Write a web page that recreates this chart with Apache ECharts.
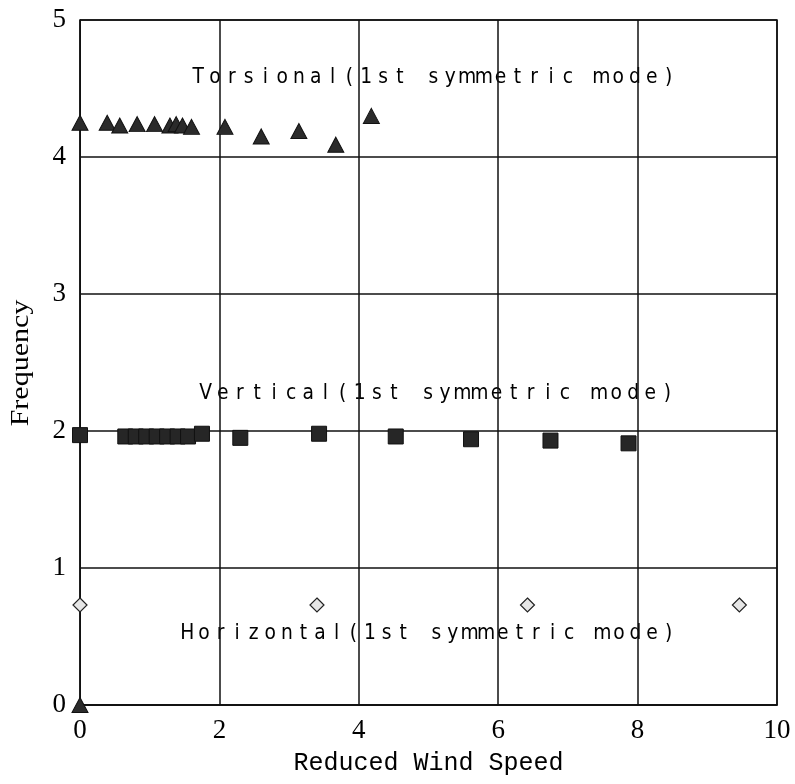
<!DOCTYPE html>
<html>
<head>
<meta charset="utf-8">
<title>Frequency vs Reduced Wind Speed</title>
<script src="https://cdn.jsdelivr.net/npm/echarts@6/dist/echarts.min.js"></script>
<style>
  html, body { margin: 0; padding: 0; background: #fff; }
  #chart { width: 795px; height: 784px; }
</style>
</head>
<body>
<div id="chart"></div>
<script>
// Torsional mode (1st symmetric)
const torsionalX = [0, 0.39, 0.57, 0.82, 1.07, 1.29, 1.38, 1.47, 1.6, 2.08, 2.6, 3.14, 3.67, 4.18, 0];
const torsionalY = [4.25, 4.25, 4.23, 4.24, 4.24, 4.23, 4.24, 4.23, 4.22, 4.22, 4.15, 4.19, 4.09, 4.30, 0];

// Vertical mode (1st symmetric)
const verticalX = [0, 0.65, 0.8, 0.95, 1.1, 1.25, 1.4, 1.55, 1.75, 2.3, 3.43, 4.53, 5.61, 6.75, 7.87];
const verticalY = [1.97, 1.96, 1.96, 1.96, 1.96, 1.96, 1.96, 1.96, 1.98, 1.95, 1.98, 1.96, 1.94, 1.93, 1.91];

// Horizontal mode (1st symmetric)
const horizontalX = [0, 3.4, 6.42, 9.46];
const horizontalY = [0.73, 0.73, 0.73, 0.73];

const modeLabels = [
  'Torsional(1st symmetric mode)',
  'Vertical(1st symmetric mode)',
  'Horizontal(1st symmetric mode)'
];
const xTitle = 'Reduced Wind Speed';
const yTitle = 'Frequency';

const pairs = (xs, ys) => xs.map((x, i) => [x, ys[i]]);

const chart = echarts.init(document.getElementById('chart'), null, { renderer: 'canvas' });

// Spaced, fixed-pitch label: one text element per character
function spacedText(str, right, cy, pitch, fontSize) {
  const x0 = right - pitch * str.length;
  return {
    type: 'group',
    children: str.split('').map((ch, i) => ({
      type: 'text',
      x: x0 + pitch * (i + 0.5),
      y: cy,
      scaleX: 0.85,
      style: {
        text: ch,
        fill: '#000',
        font: fontSize + 'px "DejaVu Sans"',
        align: 'center',
        verticalAlign: 'middle'
      },
      silent: true
    }))
  };
}

const tickFont = { fontFamily: 'Liberation Serif', fontSize: 27, color: '#000' };

chart.setOption({
  animation: false,
  backgroundColor: '#fff',
  grid: {
    left: 80, right: 18, top: 20, bottom: 79,
    show: true, borderColor: '#111', borderWidth: 1.5, backgroundColor: 'transparent'
  },
  xAxis: {
    type: 'value', min: 0, max: 10, interval: 2,
    axisLine: { show: true, lineStyle: { color: '#111', width: 1.5 } },
    axisTick: { show: false },
    axisLabel: Object.assign({ margin: 12 }, tickFont),
    splitLine: { show: true, lineStyle: { color: '#111', width: 1.5 } },
    name: xTitle,
    nameLocation: 'middle',
    nameGap: 46,
    nameTextStyle: { fontFamily: 'Liberation Mono', fontSize: 25, color: '#000' }
  },
  yAxis: {
    type: 'value', min: 0, max: 5, interval: 1,
    axisLine: { show: true, lineStyle: { color: '#111', width: 1 } },
    axisTick: { show: false },
    axisLabel: Object.assign({ margin: 14 }, tickFont),
    splitLine: { show: true, lineStyle: { color: '#111', width: 1.5 } }
  },
  graphic: [
    spacedText(modeLabels[0], 677, 77, 16.8, 22),
    spacedText(modeLabels[1], 676, 393, 17.1, 22),
    spacedText(modeLabels[2], 677, 633, 16.6, 22),
    {
      type: 'text',
      x: 21, y: 363,
      rotation: Math.PI / 2,
      scaleX: 1.2,
      style: {
        text: yTitle,
        fill: '#000',
        font: '25px "Liberation Serif"',
        align: 'center',
        verticalAlign: 'middle'
      },
      silent: true
    }
  ],
  series: [
    {
      name: 'Torsional',
      type: 'scatter',
      symbol: 'triangle',
      symbolSize: [16, 15],
      data: pairs(torsionalX, torsionalY),
      itemStyle: { color: '#2b2b2b', borderColor: '#111', borderWidth: 1, opacity: 1 },
      z: 5
    },
    {
      name: 'Vertical',
      type: 'scatter',
      symbol: 'rect',
      symbolSize: 15,
      data: pairs(verticalX, verticalY),
      itemStyle: { color: '#262626', borderColor: '#111', borderWidth: 1, opacity: 1 },
      z: 5
    },
    {
      name: 'Horizontal',
      type: 'scatter',
      symbol: 'diamond',
      symbolSize: 14,
      data: pairs(horizontalX, horizontalY),
      itemStyle: { color: '#e6e6e6', borderColor: '#222', borderWidth: 1.2, opacity: 1 },
      z: 5
    }
  ]
});
</script>
</body>
</html>
